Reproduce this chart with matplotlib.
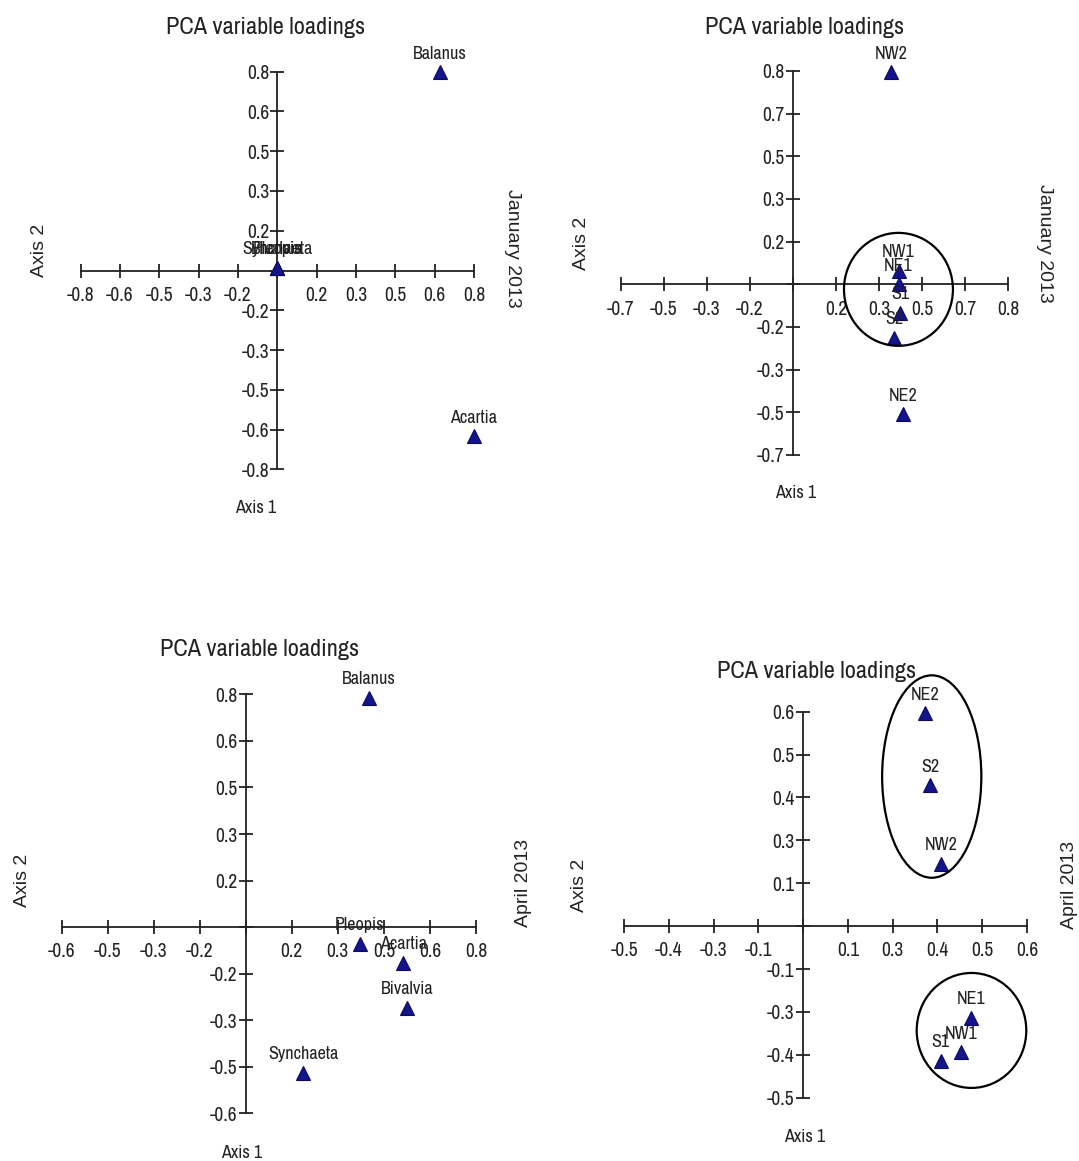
import numpy as np
import matplotlib
matplotlib.use('Agg')
import matplotlib.pyplot as plt
from matplotlib.patches import Ellipse

W, H = 1079, 1161
NARROW = ['Archivo Narrow', 'Liberation Sans', 'DejaVu Sans']
REG = ['Liberation Sans', 'DejaVu Sans']
MCOL = '#14148c'
TCOL = '#222222'

# ---- data (loadings on axis 1 / axis 2) ----
jan_sp_names = ['Synchaeta', 'Pleopis', 'Bivalvia', 'Balanus', 'Acartia']
jan_sp_x = [0.0, 0.0, 0.0, 0.661, 0.799]
jan_sp_y = [0.01, 0.01, 0.01, 0.797, -0.668]

jan_st_names = ['NW2', 'NW1', 'NE1', 'S1', 'S2', 'NE2']
jan_st_x = [0.389, 0.417, 0.417, 0.423, 0.400, 0.433]
jan_st_y = [0.845, 0.053, 0.0, -0.113, -0.213, -0.518]

apr_sp_names = ['Balanus', 'Pleopis', 'Acartia', 'Bivalvia', 'Synchaeta']
apr_sp_x = [0.429, 0.396, 0.547, 0.561, 0.199]
apr_sp_y = [0.789, -0.057, -0.123, -0.278, -0.501]

apr_st_names = ['NE2', 'S2', 'NW2', 'NE1', 'NW1', 'S1']
apr_st_x = [0.340, 0.355, 0.385, 0.468, 0.440, 0.384]
apr_st_y = [0.620, 0.410, 0.182, -0.267, -0.368, -0.393]

# tick labels as printed by the original software (evenly spaced ticks, rounded labels)
lab_016_full = ['-0.8', '-0.6', '-0.5', '-0.3', '-0.2', '', '0.2', '0.3', '0.5', '0.6', '0.8']
lab_017 = ['-0.7', '-0.5', '-0.3', '-0.2', '', '0.2', '0.3', '0.5', '0.7', '0.8']
lab_016 = ['-0.6', '-0.5', '-0.3', '-0.2', '', '0.2', '0.3', '0.5', '0.6', '0.8']
lab_0125 = ['-0.5', '-0.4', '-0.3', '-0.1', '', '0.1', '0.3', '0.4', '0.5', '0.6']


def px(x, y):
    return x / W, 1 - y / H


def make_axes(fig, x0, x1, ytop, ybot, step, kmin, kmax, labels):
    ax = fig.add_axes([x0 / W, 1 - ybot / H, (x1 - x0) / W, (ybot - ytop) / H])
    ax.set_xlim(kmin * step, kmax * step)
    ax.set_ylim(kmin * step, kmax * step)
    ax.patch.set_alpha(0)
    for s in ['top', 'right']:
        ax.spines[s].set_visible(False)
    ax.spines['left'].set_position(('data', 0))
    ax.spines['bottom'].set_position(('data', 0))
    for s in ['left', 'bottom']:
        ax.spines[s].set_linewidth(1.3)
        ax.spines[s].set_color(TCOL)
    ticks = [k * step for k in range(kmin, kmax + 1)]
    ax.set_xticks(ticks)
    ax.set_yticks(ticks)
    ax.set_xticklabels(labels)
    ax.set_yticklabels(labels)
    ax.tick_params(axis='both', direction='inout', length=10, width=1.3,
                   color=TCOL, labelcolor=TCOL, labelsize=14)
    ax.tick_params(axis='x', pad=6)
    ax.tick_params(axis='y', pad=1)
    for t in ax.get_xticklabels() + ax.get_yticklabels():
        t.set_family(NARROW)
    return ax


def points(ax, xs, ys, names):
    ax.plot(xs, ys, linestyle='none', marker='^', ms=10.5, mfc=MCOL, mec='#0a0a60',
            mew=0.8, clip_on=False, zorder=3)
    for x, y, n in zip(xs, ys, names):
        ax.annotate(n, (x, y), xytext=(0, 13.5), textcoords='offset points',
                    ha='center', va='center', fontsize=13, family=NARROW,
                    color=TCOL, zorder=4)


def labels(fig, title_xy, ax2_xy, side_xy, side_txt, side_rot, ax1_xy):
    fig.text(*px(*title_xy), 'PCA variable loadings', ha='center', va='center',
             fontsize=17.5, family=NARROW, color=TCOL)
    fig.text(*px(*ax2_xy), 'Axis 2', ha='center', va='center', rotation=90,
             fontsize=14, family=REG, color=TCOL)
    fig.text(*px(*side_xy), side_txt, ha='center', va='center', rotation=side_rot,
             fontsize=14, family=REG, color=TCOL)
    fig.text(*px(*ax1_xy), 'Axis 1', ha='center', va='center',
             fontsize=13, family=NARROW, color=TCOL)


fig = plt.figure(figsize=(W / 100, H / 100), dpi=100)
fig.patch.set_facecolor('white')

# January 2013, species
ax1 = make_axes(fig, 80.6, 474.2, 71.7, 469.3, 0.16, -5, 5, lab_016_full)
points(ax1, jan_sp_x, jan_sp_y, jan_sp_names)
labels(fig, (266, 28), (40, 250), (512, 248), 'January 2013', -90, (256, 508))

# January 2013, stations
ax2 = make_axes(fig, 620.6, 1008.3, 71, 455, 0.17, -4, 5, lab_017)
points(ax2, jan_st_x, jan_st_y, jan_st_names)
ax2.add_patch(Ellipse((0.4165, -0.02), 0.43, 0.45, fill=False, lw=1.6,
                      color='black', clip_on=False, zorder=5))
labels(fig, (805, 28), (581.5, 243), (1045, 243), 'January 2013', -90, (796, 493))

# April 2013, species
ax3 = make_axes(fig, 61.6, 476, 694.4, 1113.3, 0.16, -4, 5, lab_016)
points(ax3, apr_sp_x, apr_sp_y, apr_sp_names)
labels(fig, (260, 649), (22.5, 880), (524, 883), 'April 2013', 90, (242, 1153))

# April 2013, stations
ax4 = make_axes(fig, 624.1, 1027, 711.7, 1097.7, 0.125, -4, 5, lab_0125)
points(ax4, apr_st_x, apr_st_y, apr_st_names)
ax4.add_patch(Ellipse((0.359, 0.436), 0.277, 0.59, fill=False, lw=1.6,
                      color='black', clip_on=False, zorder=5))
ax4.add_patch(Ellipse((0.470, -0.304), 0.306, 0.335, fill=False, lw=1.6,
                      color='black', clip_on=False, zorder=5))
labels(fig, (817, 672), (580, 885), (1070, 885), 'April 2013', 90, (805, 1137))

fig.savefig('out.png', dpi=100, facecolor='white')
